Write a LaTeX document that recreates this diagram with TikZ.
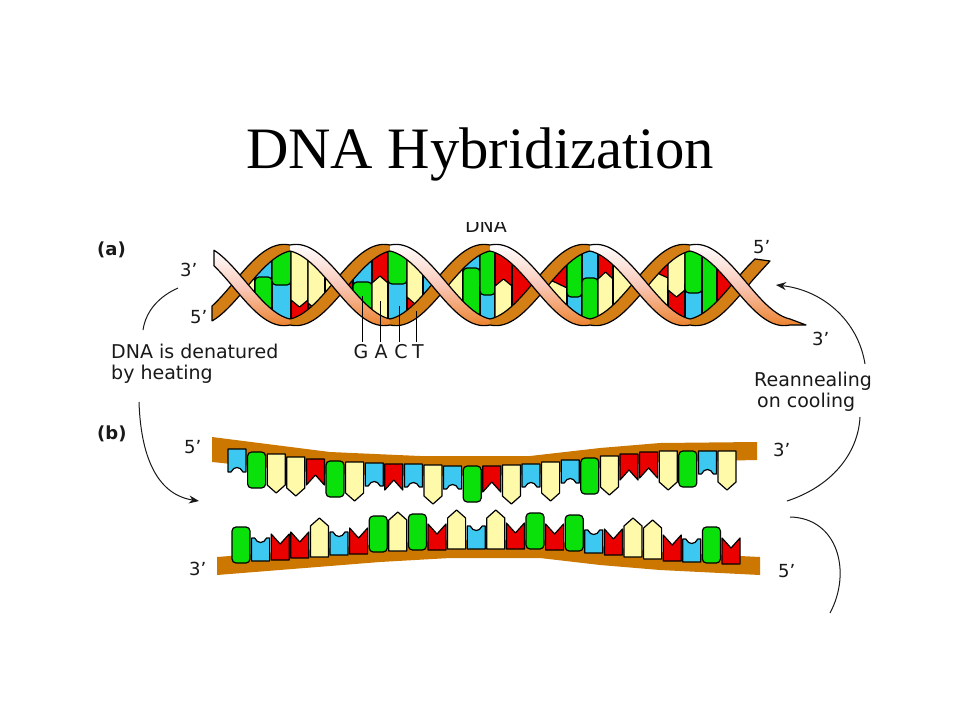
\documentclass[tikz,border=0pt]{standalone}
\usepackage{fontspec}
\setmainfont{Liberation Serif}
\newfontfamily\labfont{DejaVu Sans}
\usetikzlibrary{arrows.meta}
\definecolor{cG}{RGB}{10,225,10}
\definecolor{cC}{RGB}{60,200,240}
\definecolor{cA}{RGB}{255,250,170}
\definecolor{cT}{RGB}{235,0,0}
\definecolor{bb}{RGB}{204,120,0}
\definecolor{hx}{RGB}{212,126,22}
\definecolor{rpink}{RGB}{250,200,185}
\definecolor{rorange}{RGB}{236,130,45}
\definecolor{ink}{RGB}{25,25,25}
\tikzset{
  bs/.style={draw=black,line width=1.2pt,line join=round},
  outl/.style={draw=black,line width=1.2pt,line join=round},
  lab/.style={font=\labfont\fontsize{19}{22}\selectfont,text=ink,inner sep=0pt},
  primelab/.style={font=\labfont\fontsize{18}{20}\selectfont,text=ink,inner sep=0pt},
  tag/.style={font=\labfont\bfseries\fontsize{18}{20}\selectfont,text=ink,inner sep=0pt},
  curve/.style={draw=ink,line width=1pt},
  arr/.style={curve,-{Stealth[length=10pt,width=8pt]}},
  frontrib/.style={top color=white,bottom color=rorange,middle color=rpink},
}
% helix strand centre lines and ribbon half-thickness
\newcommand\yA{285-37*cos(1.8*(\x-290))}
\newcommand\yB{285+37*cos(1.8*(\x-290))}
\newcommand\hh{(3+7*abs(sin(1.8*(\x-290))))}
% ribbon polygon
\newcommand\rib[3]{plot[domain=#2:#3,samples=30] (\x,{#1-\hh}) -- plot[domain=#3:#2,samples=30] (\x,{#1+\hh}) -- cycle}
\newcommand\ribedges[3]{\draw[outl] plot[domain=#2:#3,samples=30] (\x,{#1-\hh}); \draw[outl] plot[domain=#2:#3,samples=30] (\x,{#1+\hh});}
% lens region of one turn
\newcommand\lens[1]{plot[domain=-50:50,samples=31] ({#1+\x},{285-37*cos(1.8*\x)}) -- plot[domain=50:-50,samples=31] ({#1+\x},{285+37*cos(1.8*\x)}) -- cycle}
% helix base pairs: x, width, junction
\newcommand\hGd[3]{\draw[bs,fill=cC] (#1,{#3-8}) rectangle ({#1+#2},345);
  \draw[bs,fill=cG,rounded corners=4pt] (#1,225) -- (#1,#3) -- ({#1+#2},#3) -- ({#1+#2},225) -- cycle;}
\newcommand\hGu[3]{\draw[bs,fill=cC] (#1,225) rectangle ({#1+#2},{#3+8});
  \draw[bs,fill=cG,rounded corners=4pt] (#1,345) -- (#1,#3) -- ({#1+#2},#3) -- ({#1+#2},345) -- cycle;}
\newcommand\hAd[3]{\draw[bs,fill=cT] (#1,{#3-4}) rectangle ({#1+#2},345);
  \draw[bs,fill=cA] (#1,225) -- (#1,#3) -- ({#1+#2/2},{#3+7}) -- ({#1+#2},#3) -- ({#1+#2},225) -- cycle;}
\newcommand\hAu[3]{\draw[bs,fill=cT] (#1,225) rectangle ({#1+#2},{#3+4});
  \draw[bs,fill=cA] (#1,345) -- (#1,#3) -- ({#1+#2/2},{#3-7}) -- ({#1+#2},#3) -- ({#1+#2},345) -- cycle;}
\newcommand\hS[3]{\draw[bs,fill=#3] (#1,225) rectangle ({#1+#2},345);}
% single-strand bases: x, attach y, direction (1 down, -1 up)
\newcommand\bG[3]{\draw[bs,fill=cG,rounded corners=4pt] (#1,#2) -- (#1,{#2+(#3)*36}) -- ({#1+18},{#2+(#3)*36}) -- ({#1+18},#2) -- cycle;}
\newcommand\bA[3]{\draw[bs,fill=cA] (#1,#2) -- (#1,{#2+(#3)*31}) -- ({#1+9},{#2+(#3)*39}) -- ({#1+18},{#2+(#3)*31}) -- ({#1+18},#2) -- cycle;}
\newcommand\bC[3]{\draw[bs,fill=cC] (#1,#2) -- (#1,{#2+(#3)*23}) -- ({#1+3},{#2+(#3)*23}) .. controls ({#1+6},{#2+(#3)*17}) and ({#1+12},{#2+(#3)*17}) .. ({#1+15},{#2+(#3)*23}) -- ({#1+18},{#2+(#3)*23}) -- ({#1+18},#2) -- cycle;}
\newcommand\bT[3]{\draw[bs,fill=cT] (#1,#2) -- (#1,{#2+(#3)*26}) -- ({#1+9},{#2+(#3)*16}) -- ({#1+18},{#2+(#3)*26}) -- ({#1+18},#2) -- cycle;}
\begin{document}
\begin{tikzpicture}[x=1pt,y=-1pt]
\useasboundingbox (0,0) rectangle (960,720);
\fill[white] (0,0) rectangle (960,720);

% title
\node[font=\fontsize{58.7}{62}\selectfont,anchor=base,inner sep=0pt] (title) at (480,168) {DNA Hybridization};

% ---------- (a) helix ----------
\begin{scope}\path[clip] \lens{290}; \fill[hx] (200,220) rectangle (800,350);
  \hS{238}{17}{cA} \hGu{255}{17}{277} \hGd{272}{19}{285} \hAd{291}{17}{300} \hAd{308}{17}{303} \hS{325}{18}{cA}
\end{scope}
\begin{scope}\path[clip] \lens{390}; \fill[hx] (200,220) rectangle (800,350);
  \hS{338}{15}{cT} \hGu{353}{19}{282} \hAu{372}{16}{283} \hGd{388}{19}{284} \hAd{407}{16}{297} \hS{423}{18}{cC}
\end{scope}
\begin{scope}\path[clip] \lens{490}; \fill[hx] (200,220) rectangle (800,350);
  \hS{438}{25}{cA} \hGu{463}{17}{268} \hGd{480}{15}{295} \hAu{495}{17}{286} \hS{512}{28}{cT}
\end{scope}
\begin{scope}\path[clip] \lens{590}; \fill[hx] (200,220) rectangle (800,350);
  \hAu{538}{29}{288} \hGd{567}{15}{297} \hGu{582}{16}{278} \hAu{598}{15}{279} \hS{613}{28}{cA}
\end{scope}
\begin{scope}\path[clip] \lens{690}; \fill[hx] (200,220) rectangle (800,350);
  \hAu{638}{30}{278} \hAd{668}{17}{290} \hGd{685}{17}{293} \hS{702}{15}{cG} \hS{717}{25}{cT}
\end{scope}

% back (ascending) ribbon segments
\fill[hx] \rib{\yA}{212}{290};
\draw[outl] plot[domain=290:212,samples=30] (\x,{\yA-\hh}) -- plot[domain=212:290,samples=30] (\x,{\yA+\hh});
\foreach \a/\b in {390/490,590/690}{\fill[hx] \rib{\yA}{\a}{\b}; \ribedges{\yA}{\a}{\b}}
\foreach \a/\b in {290/390,490/590}{\fill[hx] \rib{\yB}{\a}{\b}; \ribedges{\yB}{\a}{\b}}
\fill[hx] plot[domain=690:755,samples=25] (\x,{\yB-\hh}) -- (770,261) -- plot[domain=755:690,samples=25] (\x,{\yB+\hh}) -- cycle;
\draw[outl] plot[domain=690:755,samples=25] (\x,{\yB-\hh}) -- (770,261) -- plot[domain=755:690,samples=25] (\x,{\yB+\hh});

% front (descending) ribbon segments
\shade[frontrib] \rib{\yB}{214}{290};
\draw[outl] plot[domain=290:214,samples=30] (\x,{\yB-\hh}) -- plot[domain=214:290,samples=30] (\x,{\yB+\hh});
\foreach \a/\b in {390/490,590/690}{\shade[frontrib] \rib{\yB}{\a}{\b}; \ribedges{\yB}{\a}{\b}}
\foreach \a/\b in {290/390,490/590}{\shade[frontrib] \rib{\yA}{\a}{\b}; \ribedges{\yA}{\a}{\b}}
\shade[frontrib] plot[domain=690:790,samples=30] (\x,{\yA-\hh}) -- (806,325) -- plot[domain=790:690,samples=30] (\x,{\yA+\hh}) -- cycle;
\draw[outl] plot[domain=690:790,samples=30] (\x,{\yA-\hh}) -- (806,325) -- plot[domain=790:690,samples=30] (\x,{\yA+\hh});

% DNA label (cut at the top)
\begin{scope}
  \clip (440,222) rectangle (540,240);
  \node[lab,anchor=base] (dnalab) at (486,232) {DNA};
\end{scope}

% labels (a)
\node[tag,anchor=west] (taga) at (97,250) {(a)};
\node[primelab,anchor=base west] (a3l) at (180,276) {3’};
\node[primelab,anchor=base west] (a5l) at (190,323) {5’};
\node[primelab,anchor=base west] (a5r) at (753,253) {5’};
\node[primelab,anchor=base west] (a3r) at (812,345) {3’};

% G A C T
\node[lab,anchor=base] (nG) at (361,358) {G};
\node[lab,anchor=base] (nA) at (381,358) {A};
\node[lab,anchor=base] (nC) at (401,358) {C};
\node[lab,anchor=base] (nT) at (418,358) {T};
\coordinate (pG) at (362,296);
\coordinate (pA) at (380,301);
\coordinate (pC) at (399,306);
\coordinate (pT) at (416,311);
\draw[outl,line width=1pt] (pG) -- (362,342);
\draw[outl,line width=1pt] (pA) -- (380,342);
\draw[outl,line width=1pt] (pC) -- (399,342);
\draw[outl,line width=1pt] (pT) -- (416,342);

% side texts
\node[lab,anchor=base west] (den1) at (111,358) {DNA is denatured};
\node[lab,anchor=base west] (den2) at (111,379) {by heating};
\node[lab,anchor=base west] (rea1) at (754,386) {Reannealing};
\node[lab,anchor=base west] (rea2) at (757,407) {on cooling};

% ---------- (b) single strands ----------
\node[tag,anchor=west] (tagb) at (97,434) {(b)};
\node[primelab,anchor=base west] (b5l) at (184,453) {5’};
\node[primelab,anchor=base west] (b3l) at (189,575) {3’};
\node[primelab,anchor=base west] (b3r) at (773,456) {3’};
\node[primelab,anchor=base west] (b5r) at (778,577) {5’};

\fill[bb] (212,437) -- (330,452) -- (420,456) -- (530,456) -- (600,448) -- (660,443) -- (757,442) -- (757,460)
  -- (660,462) -- (600,468) -- (530,475) -- (420,476) -- (330,474) -- (212,462) -- cycle;
\fill[bb] (217,575) -- (380,562) -- (450,558) -- (540,558) -- (600,565) -- (660,570) -- (760,575) -- (760,557)
  -- (660,552) -- (600,546) -- (540,540) -- (450,540) -- (380,544) -- (217,557) -- cycle;

\foreach \t/\y [count=\i from 0] in {C/449,G/452,A/454,A/457,T/459,G/461,A/462,C/463,T/464,C/464,A/465,C/466,G/466,
    T/466,A/465,C/464,A/462,C/460,G/458,A/456,T/454,T/452,A/451,G/451,C/451,A/451}{
  \pgfmathsetmacro\xx{228+19.6*\i}
  \csname b\t\endcsname{\xx}{\y}{1}
}
\foreach \t/\y [count=\i from 0] in {G/563,C/561,T/560,T/558,A/557,C/555,T/554,G/552,A/551,G/550,T/550,A/549,C/549,
    A/549,T/549,G/549,T/550,G/551,C/553,T/555,A/557,A/559,T/561,C/562,G/563,T/564}{
  \pgfmathsetmacro\xx{232+19.6*\i}
  \csname b\t\endcsname{\xx}{\y}{-1}
}

% ---------- curved arrows ----------
\coordinate (c1s) at (178,288); \coordinate (c1e) at (143,330);
\draw[curve] (c1s) .. controls (160,296) and (146,310) .. (c1e);
\coordinate (c2s) at (139,402); \coordinate (c2e) at (199,501);
\draw[arr] (c2s) .. controls (141,462) and (160,495) .. (c2e);
\coordinate (c3s) at (865,364); \coordinate (c3e) at (776,285);
\draw[arr] (c3s) .. controls (858,320) and (822,290) .. (c3e);
\coordinate (c4s) at (787,501); \coordinate (c4e) at (860,417);
\draw[curve] (c4s) .. controls (830,487) and (858,455) .. (c4e);
\coordinate (c5s) at (790,517); \coordinate (c5e) at (830,613);
\draw[curve] (c5s) .. controls (838,518) and (852,572) .. (c5e);
\end{tikzpicture}
\end{document}
